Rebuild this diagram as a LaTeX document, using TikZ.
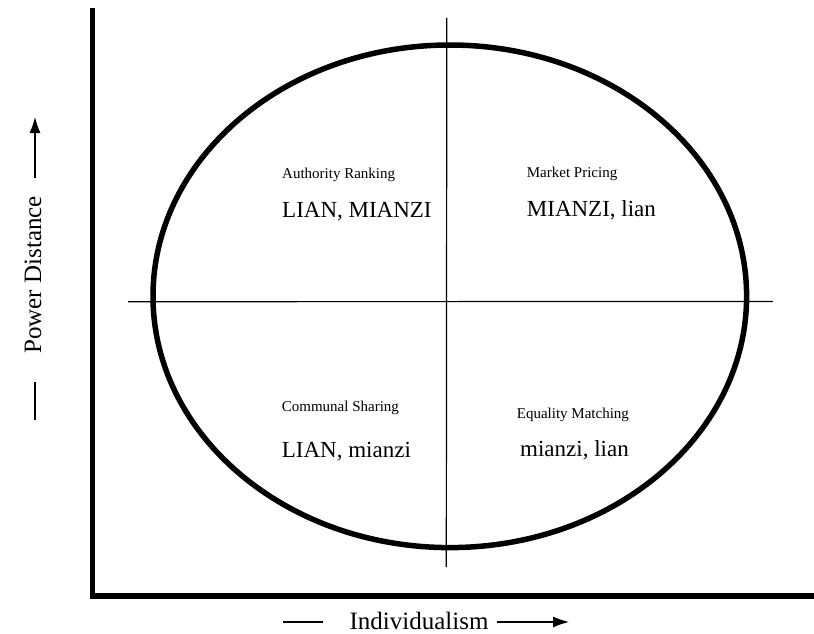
\documentclass[tikz,border=0pt]{standalone}
\usepackage{fontspec}
\setmainfont{Liberation Serif}
\usetikzlibrary{arrows.meta}
\tikzset{
  axisline/.style={line width=5.5pt, line cap=rect},
  thinline/.style={line width=1.2pt},
  oval/.style={line width=5.5pt},
  lbl/.style={anchor=base west, inner sep=0pt, font=\fontsize{15}{15}\selectfont},
  big/.style={anchor=base west, inner sep=0pt, font=\fontsize{23}{23}\selectfont},
  axlbl/.style={inner sep=0pt, font=\fontsize{25}{25}\selectfont},
  arr/.style={line width=1.2pt, -{Latex[length=16pt,width=11pt]}}
}
\begin{document}
\begin{tikzpicture}[x=1pt,y=-1pt]
\useasboundingbox (0,0) rectangle (814,634);
% axes
\coordinate (ytop) at (92.5,11);
\coordinate (origin) at (92.5,596);
\coordinate (xend) at (811,596);
\draw[axisline] (ytop) -- (origin) -- (xend);
% ellipse
\draw[oval] (449.8,296.3) ellipse [x radius=296.8, y radius=251.3];
% quadrant lines
\coordinate (vtop) at (446.8,18);
\coordinate (vbot) at (446.3,567);
\coordinate (hl) at (128,301.7);
\coordinate (hr) at (773,301.5);
\draw[thinline] (vtop) -- (vbot);
\draw[thinline] (hl) -- (hr);
% quadrant labels
\node[lbl] (ar) at (282,178.3) {Authority Ranking};
\node[big] (arv) at (282,217.3) {LIAN, MIANZI};
\node[lbl] (mp) at (526.7,177.7) {Market Pricing};
\node[big] (mpv) at (526.7,216.7) {MIANZI, lian};
\node[lbl] (cs) at (281.7,411.7) {Communal Sharing};
\node[big] (csv) at (281.7,457.3) {LIAN, mianzi};
\node[lbl] (em) at (516.7,418.3) {Equality Matching};
\node[big] (emv) at (520,456.7) {mianzi, lian};
% axis labels
\node[axlbl, rotate=90] (pd) at (33,275) {Power Distance};
\coordinate (pdd1) at (35,382);
\coordinate (pdd2) at (35,420);
\draw[thinline] (pdd1) -- (pdd2);
\coordinate (pda1) at (35,178);
\coordinate (pda2) at (35,117);
\draw[arr] (pda1) -- (pda2);
\node[axlbl, anchor=base] (ind) at (419,629.5) {Individualism};
\coordinate (ind1) at (283,622);
\coordinate (ind2) at (323,622);
\draw[thinline] (ind1) -- (ind2);
\coordinate (ina1) at (497,622);
\coordinate (ina2) at (569,622);
\draw[arr] (ina1) -- (ina2);
\end{tikzpicture}
\end{document}
